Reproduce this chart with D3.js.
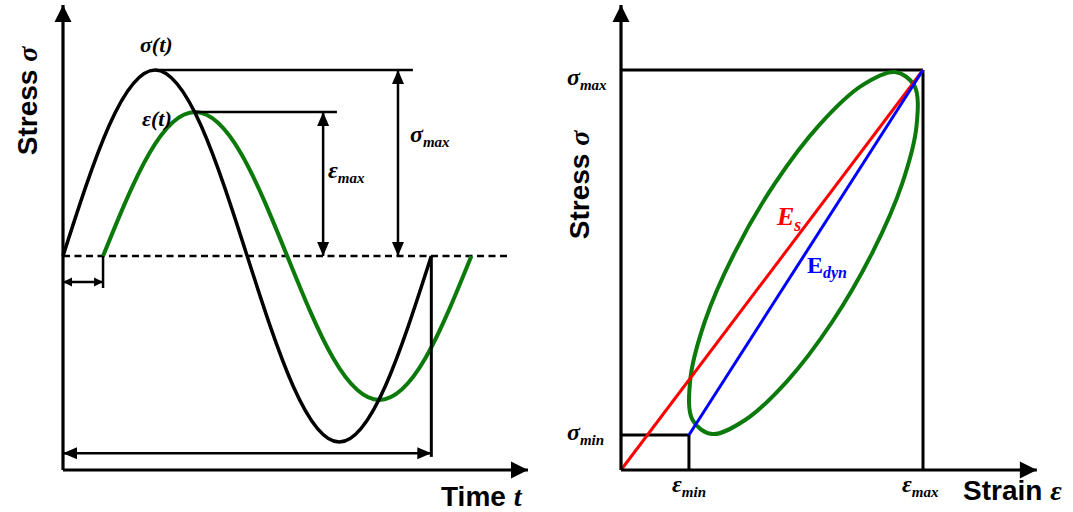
<!DOCTYPE html>
<html lang="en">

<head>
    <meta charset="UTF-8">
    <script src="https://cdn.jsdelivr.net/npm/d3@7"></script>
    <title>Stress / strain</title>
    <style>
        body { margin: 0; background: #fff; }
    </style>
</head>

<body>
    <div id="app"></div>
    <script>
        const svg_width = 1073;
        const svg_height = 512;

        // left panel: time in eighth-period steps (one period = 8 units), values normalised to sigma_max
        var stress_time = [0, 1, 2, 3, 4, 5, 6, 7, 8]
        var stress_vals = [0, 0.7, 1, 0.7, 0, -0.7, -1, -0.7, 0]
        var strain_time = [0.87, 1.87, 2.87, 3.87, 4.87, 5.87, 6.87, 7.87, 8.87]
        var strain_vals = [0, 0.55, 0.774, 0.55, 0, -0.55, -0.774, -0.55, 0]

        // right panel: hysteresis loop, strain / stress normalised to the max values
        var loop_strain = [0.376, 0.509, 0.657, 0.797, 0.907, 0.971, 0.979, 0.931,
                           0.832, 0.699, 0.551, 0.411, 0.301, 0.237, 0.229, 0.277]
        var loop_stress = [0.543, 0.716, 0.863, 0.961, 0.995, 0.961, 0.863, 0.716,
                           0.543, 0.370, 0.223, 0.125, 0.090, 0.125, 0.223, 0.370]
        var eps_minmax = [0.225, 1]
        var sig_minmax = [0.0875, 1]

        const green = '#0b7a0b'
        const sans = '"Liberation Sans", Arial, sans-serif'
        const serif = '"Liberation Serif", "Times New Roman", serif'

        var svg = d3.select('#app')
            .append('svg')
            .attr('width', svg_width)
            .attr('height', svg_height)

        var defs = svg.append('defs')
        function marker(id, len, half) {
            defs.append('marker')
                .attr('id', id)
                .attr('markerUnits', 'userSpaceOnUse')
                .attr('markerWidth', len + 2)
                .attr('markerHeight', half * 2 + 2)
                .attr('viewBox', `${-len - 1} ${-half - 1} ${len + 2} ${half * 2 + 2}`)
                .attr('refX', 0)
                .attr('refY', 0)
                .attr('orient', 'auto-start-reverse')
                .append('path')
                .attr('d', `M0,0L${-len},${-half}L${-len},${half}Z`)
                .attr('fill', '#000')
        }
        marker('ax', 17, 8.5)
        marker('dim', 14, 6)
        marker('sm', 9, 4.5)

        function seg(g, x1, y1, x2, y2, w, opt) {
            opt = opt || {}
            var l = g.append('line')
                .attr('x1', x1).attr('y1', y1)
                .attr('x2', x2).attr('y2', y2)
                .attr('stroke', opt.color || '#000')
                .attr('stroke-width', w)
            if (opt.end) l.attr('marker-end', 'url(#' + opt.end + ')')
            if (opt.start) l.attr('marker-start', 'url(#' + opt.start + ')')
            if (opt.dash) l.attr('stroke-dasharray', opt.dash)
            return l
        }

        function math_label(x, y, main, sub, size, sub_size, color, upright) {
            var t = svg.append('text')
                .attr('x', x)
                .attr('y', y)
                .attr('font-family', serif)
                .attr('font-weight', 'bold')
                .attr('font-style', 'italic')
                .attr('font-size', size)
                .attr('fill', color || '#000')
            var m = t.append('tspan').text(main)
            if (upright) m.attr('font-style', 'normal')
            if (sub) {
                t.append('tspan')
                    .attr('dy', size * 0.22)
                    .attr('font-size', sub_size)
                    .text(sub)
            }
        }

        function axis_title(x, y, word, sym, rotate) {
            var t = svg.append('text')
                .attr('font-family', sans)
                .attr('font-weight', 'bold')
                .attr('font-size', 28)
                .attr('transform', `translate(${x},${y})` + (rotate ? ' rotate(-90)' : ''))
                .attr('text-anchor', rotate ? 'middle' : 'start')
            t.append('tspan').text(word + ' ')
            t.append('tspan')
                .attr('font-family', serif)
                .attr('font-style', 'italic')
                .text(sym)
        }

        // ---------------- left panel: sigma(t), epsilon(t) ----------------
        var x_l = d3.scaleLinear().domain([0, 10.1]).range([63, 528])
        var y_l = d3.scaleLinear().domain([-1.1505, 1.3495]).range([470, 5])
        var left = svg.append('g')

        var line_l = d3.line()
            .x(function (d) { return x_l(d[0]) })
            .y(function (d) { return y_l(d[1]) })
            .curve(d3.curveNatural)

        // dashed zero line
        seg(left, x_l(0), y_l(0), x_l(9.71), y_l(0), 2.6, { dash: '7,4.5' })

        left.append('path')
            .datum(d3.zip(strain_time, strain_vals))
            .attr('d', line_l)
            .attr('fill', 'none')
            .attr('stroke', green)
            .attr('stroke-width', 4)

        left.append('path')
            .datum(d3.zip(stress_time, stress_vals))
            .attr('d', line_l)
            .attr('fill', 'none')
            .attr('stroke', '#000')
            .attr('stroke-width', 3.5)

        // amplitude markers
        var s_max = d3.max(stress_vals), e_max = d3.max(strain_vals)
        seg(left, x_l(stress_time[2]), y_l(s_max), x_l(7.6), y_l(s_max), 2.5)
        seg(left, x_l(7.276), y_l(s_max), x_l(7.276), y_l(0), 2.5, { start: 'dim', end: 'dim' })
        seg(left, x_l(strain_time[2]), y_l(e_max), x_l(5.95), y_l(e_max), 2.5)
        seg(left, x_l(5.65), y_l(e_max), x_l(5.65), y_l(0), 2.5, { start: 'dim', end: 'dim' })

        // phase lag and period
        seg(left, x_l(strain_time[0]), y_l(0), x_l(strain_time[0]), y_l(-0.172), 2.5)
        seg(left, x_l(0), y_l(-0.14), x_l(strain_time[0]), y_l(-0.14), 2.5, { start: 'sm', end: 'sm' })
        seg(left, x_l(8), y_l(0), x_l(8), y_l(-1.08), 3)
        seg(left, x_l(0), y_l(-1.06), x_l(8), y_l(-1.06), 2.5, { start: 'dim', end: 'dim' })

        // axes
        seg(left, x_l(0), y_l(-1.1505), x_l(0), y_l(1.3495), 3.2, { end: 'ax' })
        seg(left, x_l(0), y_l(-1.1505), x_l(10.1), y_l(-1.1505), 3.2, { end: 'ax' })

        math_label(140, 52, 'σ(t)', null, 22)
        math_label(142, 126, 'ε(t)', null, 22)
        math_label(410, 142, 'σ', 'max', 24, 15)
        math_label(328, 178, 'ε', 'max', 24, 15)
        axis_title(37, 101, 'Stress', 'σ', true)
        axis_title(441, 506, 'Time', 't', false)

        // ---------------- right panel: hysteresis loop ----------------
        var x_r = d3.scaleLinear().domain([0, 1]).range([621, 923])
        var y_r = d3.scaleLinear().domain([0, 1]).range([470, 70])
        var right = svg.append('g')

        // guide box lines
        seg(right, x_r(0), y_r(sig_minmax[1]), x_r(eps_minmax[1]), y_r(sig_minmax[1]), 3)
        seg(right, x_r(eps_minmax[1]), y_r(sig_minmax[1]), x_r(eps_minmax[1]), y_r(0), 3)
        seg(right, x_r(0), y_r(sig_minmax[0]), x_r(eps_minmax[0]), y_r(sig_minmax[0]), 3)
        seg(right, x_r(eps_minmax[0]), y_r(sig_minmax[0]), x_r(eps_minmax[0]), y_r(0), 3)

        right.append('path')
            .datum(d3.zip(loop_strain, loop_stress))
            .attr('d', d3.line()
                .x(function (d) { return x_r(d[0]) })
                .y(function (d) { return y_r(d[1]) })
                .curve(d3.curveCatmullRomClosed.alpha(0.5)))
            .attr('fill', 'none')
            .attr('stroke', green)
            .attr('stroke-width', 4)

        // secant modulus and dynamic modulus
        seg(right, x_r(0), y_r(0), x_r(eps_minmax[1]), y_r(sig_minmax[1]), 3, { color: '#ff0000' })
        seg(right, x_r(eps_minmax[0]), y_r(sig_minmax[0]), x_r(eps_minmax[1]), y_r(sig_minmax[1]), 3, { color: '#0000ff' })

        seg(right, x_r(0), y_r(0), x_r(0), y_r(1.1625), 3.2, { end: 'ax' })
        seg(right, x_r(0), y_r(0), x_r(1.377), y_r(0), 3.2, { end: 'ax' })

        math_label(567, 85, 'σ', 'max', 24, 15)
        math_label(567, 440, 'σ', 'min', 24, 15)
        math_label(672, 492, 'ε', 'min', 24, 15)
        math_label(902, 492, 'ε', 'max', 24, 15)
        math_label(777, 225, 'E', 's', 26, 18, '#ff0000')
        math_label(807, 273, 'E', 'dyn', 24, 16, '#0000ff', true)
        axis_title(589, 185, 'Stress', 'σ', true)
        axis_title(963, 500, 'Strain', 'ε', false)
    </script>
</body>

</html>
